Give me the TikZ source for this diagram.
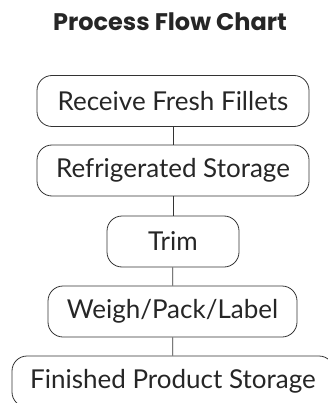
\documentclass[tikz,border=0pt]{standalone}
\usepackage{fontspec}
\setmainfont{Lato}
\newfontfamily\titlefont{Poppins}
\begin{document}
\begin{tikzpicture}[x=1pt,y=-1pt,
  stepbox/.style={draw=black!80, line width=0.8pt, rounded corners=15pt,
    minimum height=51pt, inner sep=0pt, text=black!85,
    font=\fontsize{26}{30}\selectfont},
  link/.style={draw=black!80, line width=0.8pt}]
\useasboundingbox (0,0) rectangle (328,403);
\node[font=\titlefont\bfseries\fontsize{24}{28}\selectfont, text=black!85] (title) at (170,22) {Process Flow Chart};

\node[stepbox, minimum width=272pt] (receive) at (173,101) {Receive Fresh Fillets};
\node[stepbox, minimum width=272pt] (cold) at (173,170.5) {Refrigerated Storage};
\node[stepbox, minimum width=132pt] (trim) at (173,241.5) {Trim};
\node[stepbox, minimum width=249pt] (pack) at (172.5,311.5) {Weigh/Pack/Label};
\node[stepbox, minimum width=322pt] (finished) at (173,381.5) {Finished Product Storage};

\draw[link] (receive) -- (cold);
\draw[link] (cold) -- (trim);
\draw[link] (trim) -- (pack);
\draw[link] (pack) -- (finished);
\end{tikzpicture}
\end{document}
